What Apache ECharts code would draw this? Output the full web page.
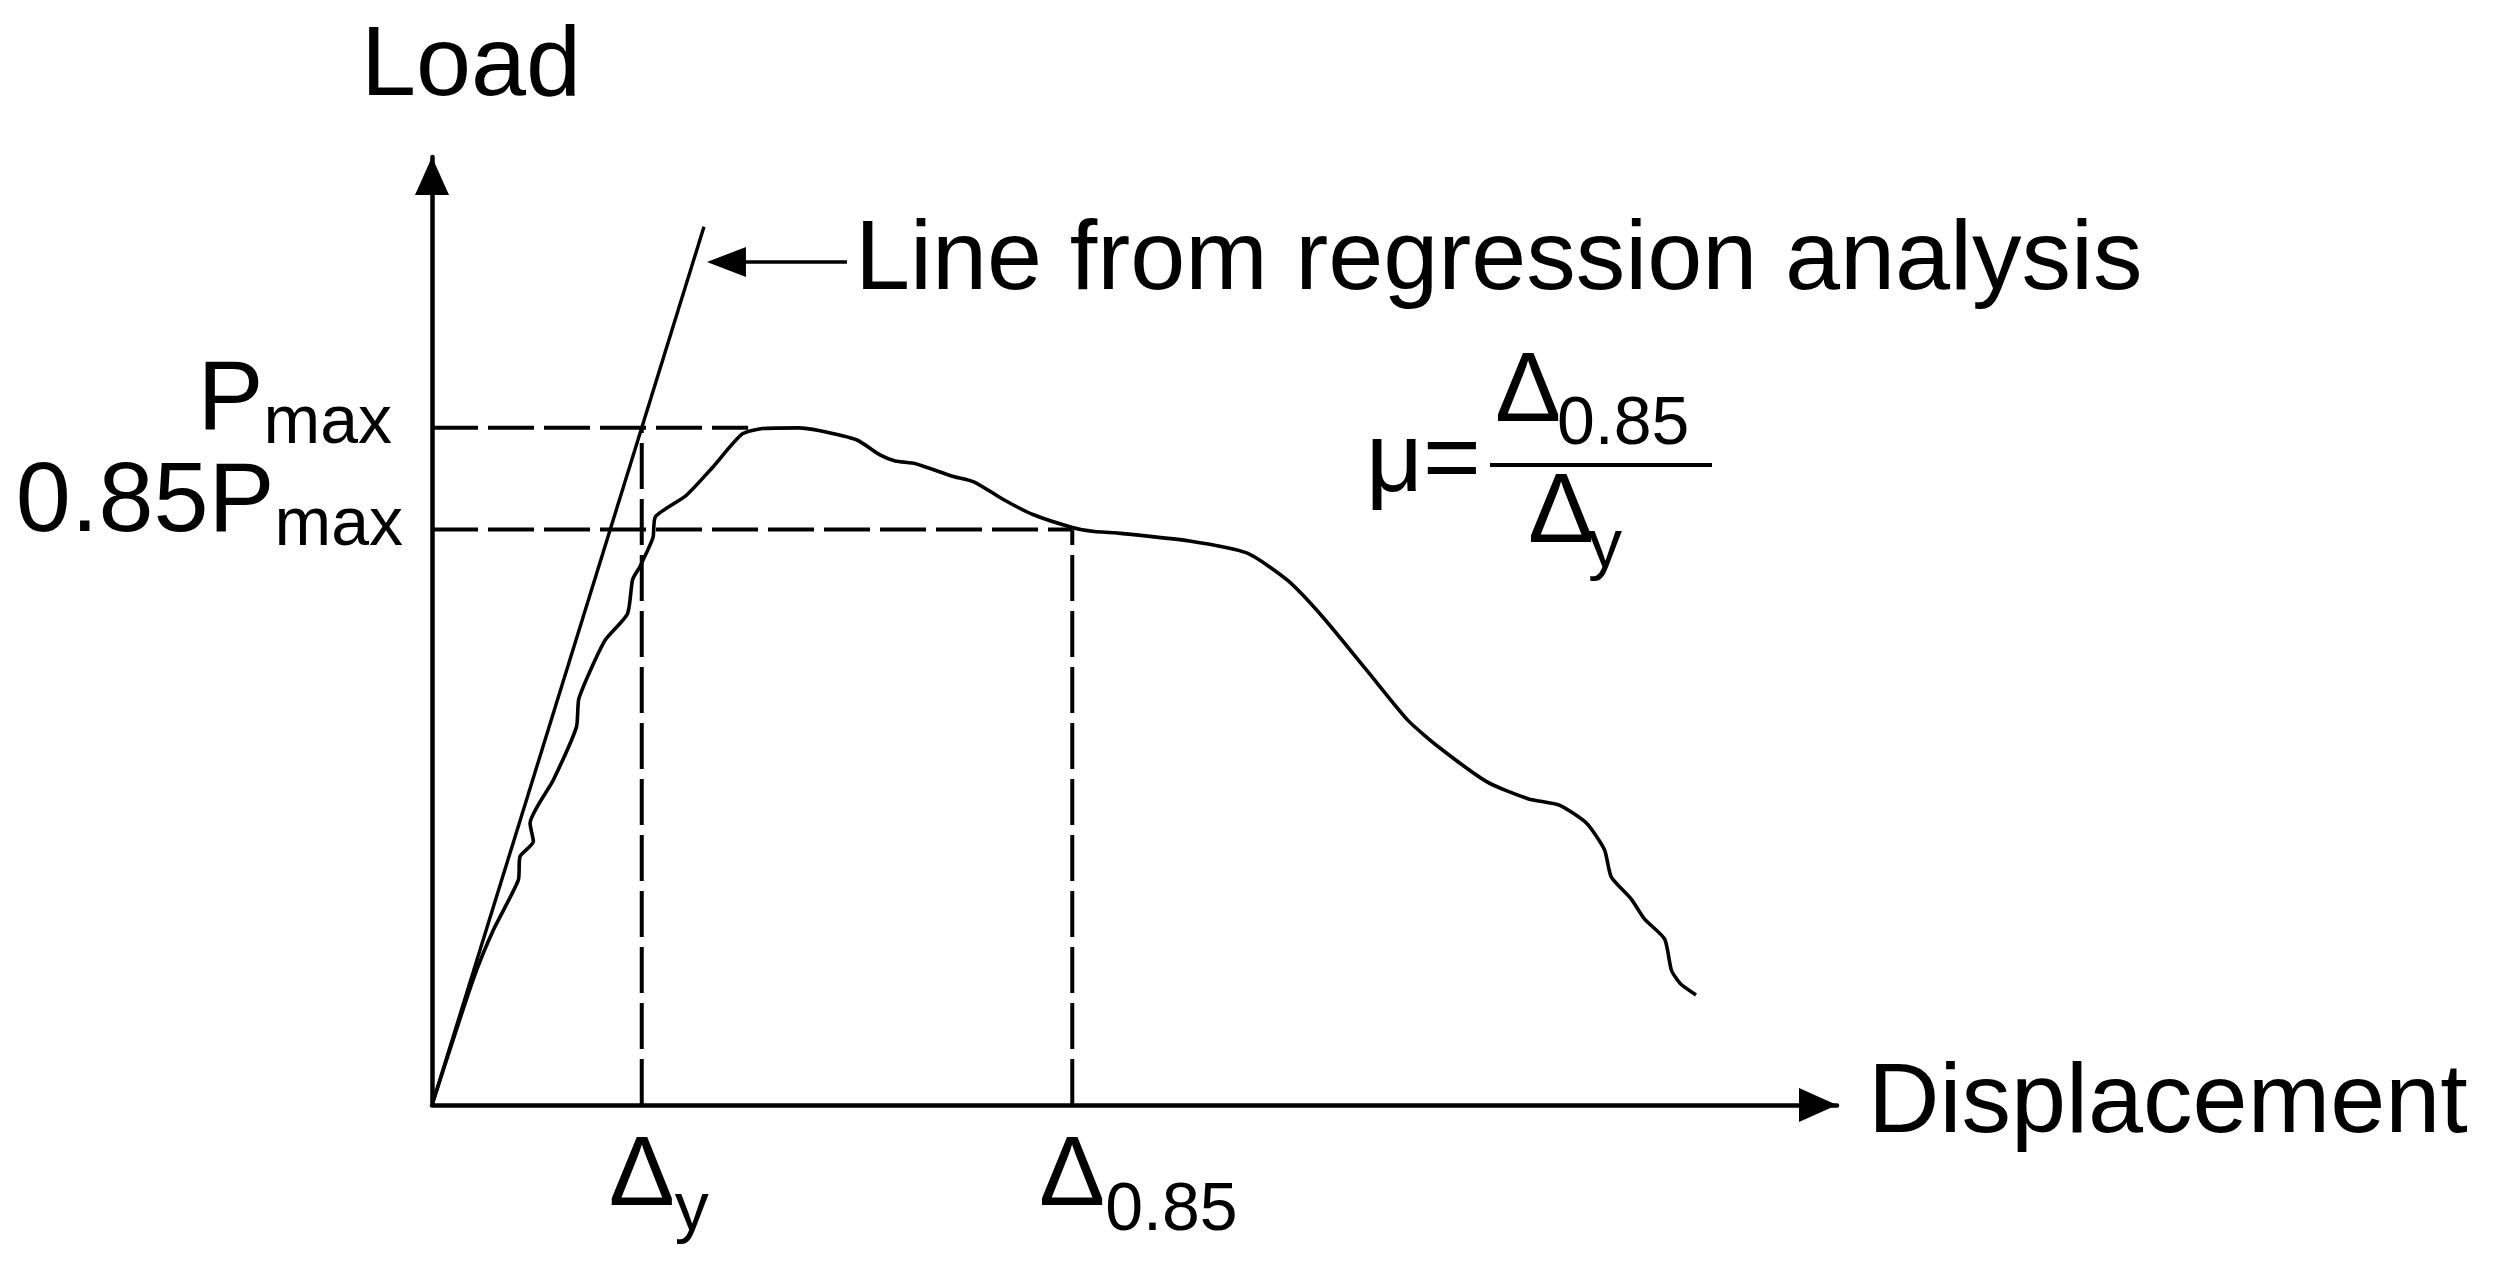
<!DOCTYPE html>
<html>
<head>
<meta charset="utf-8">
<title>Load - displacement curve</title>
<script src="https://cdn.jsdelivr.net/npm/echarts@6/dist/echarts.min.js"></script>
<style>
html, body { margin: 0; padding: 0; background: #fff; }
#chart { width: 2495px; height: 1265px; }
</style>
</head>
<body>
<div id="chart"></div>
<script>
// measured load-displacement curve (load normalised so that Pmax = 1)
var curveDisp = [0, 0.41, 0.61, 0.86, 0.877, 1.01, 0.977, 1.209, 1.439, 1.465, 1.719, 1.947, 1.999, 2.075,
  2.202, 2.227, 2.531, 2.786, 3.091, 3.295, 3.651, 3.854, 4.235, 4.464, 4.616, 4.82, 5.175, 5.404, 5.684,
  5.988, 6.38, 6.6, 6.8, 7.546, 8.124, 8.524, 8.88, 9.325, 9.725, 10.037, 10.526, 10.927, 11.238, 11.505,
  11.683, 11.75, 11.95, 12.083, 12.283, 12.35, 12.44, 12.595];
var curveLoad = [0, 0.185, 0.258, 0.332, 0.367, 0.389, 0.416, 0.48, 0.558, 0.601, 0.685, 0.725, 0.776, 0.796,
  0.838, 0.869, 0.9, 0.94, 0.991, 0.999, 1.0, 0.996, 0.982, 0.96, 0.951, 0.947, 0.929, 0.92, 0.895,
  0.872, 0.853, 0.847, 0.845, 0.833, 0.815, 0.775, 0.72, 0.64, 0.568, 0.528, 0.476, 0.452, 0.4425, 0.416,
  0.377, 0.337, 0.304, 0.2745, 0.245, 0.199, 0.179, 0.1625];

// line from regression analysis
var regDisp = [0, 2.71];
var regLoad = [0, 1.297];

// key values
var pMax = 1.0;
var ratio = 0.85;
var deltaY = 2.09;
var delta085 = 6.38;
var pMaxGuideEnd = 3.15;

// tick labels
var xTickValues = [deltaY, delta085];
var xTickMain = ['Δ', 'Δ'];
var xTickSub = ['y', '0.85'];
var yTickValues = [ratio * pMax, pMax];
var yTickMain = ['0.85P', 'P'];
var yTickSub = ['max', 'max'];

// pointer arrow to the regression line
var arrowDisp = [2.934, 4.135];
var arrowLoad = 1.245;

var X_MAX = 14;
var Y_MAX = 1.4;
var FONT = "'Liberation Sans', Arial, Helvetica, sans-serif";
var BIG = 99;
var SUB = 68;

function zip(a, b) {
  return a.map(function (v, i) { return [v, b[i]]; });
}

var dashed = { color: '#000', width: 4, type: [46, 10], cap: 'butt' };
function guide(points) {
  return {
    type: 'line',
    data: points,
    showSymbol: false,
    silent: true,
    lineStyle: dashed,
    z: 2
  };
}

// one y axis per tick label, so the two tall labels are never hidden as overlapping
function loadAxis(i, main) {
  var axis = {
    type: 'value',
    min: 0,
    max: Y_MAX,
    position: 'left',
    axisTick: { show: false },
    splitLine: { show: false },
    axisLine: { show: false },
    axisLabel: {
      customValues: [yTickValues[i]],
      margin: 29,
      hideOverlap: false,
      color: '#000',
      formatter: function () {
        return '{p|' + yTickMain[i] + '}{s' + i + '|' + yTickSub[i] + '}';
      },
      rich: {
        p: { fontSize: BIG, fontFamily: FONT, color: '#000', padding: [0, 0, 52, 0] },
        s0: { fontSize: SUB, fontFamily: FONT, color: '#000', padding: [0, 0, 7, 0] },
        s1: { fontSize: SUB, fontFamily: FONT, color: '#000', padding: [0, 11, 7, 0] }
      }
    }
  };
  if (main) {
    axis.name = 'Load';
    axis.nameLocation = 'end';
    axis.nameGap = 40;
    axis.nameTextStyle = { fontSize: BIG, fontFamily: FONT, color: '#000', padding: [0, 0, 0, 78] };
    axis.axisLine = {
      show: true,
      lineStyle: { color: '#000', width: 4.5 },
      symbol: ['none', 'triangle'],
      symbolSize: [34, 38],
      symbolOffset: [0, -19]
    };
  }
  return axis;
}

var chart = echarts.init(document.getElementById('chart'));

chart.setOption({
  animation: false,
  backgroundColor: '#fff',
  textStyle: { fontFamily: FONT, color: '#000' },
  grid: { left: 432, right: 658, top: 157, bottom: 160, outerBoundsMode: 'none' },
  xAxis: {
    type: 'value',
    min: 0,
    max: X_MAX,
    name: 'Displacement',
    nameLocation: 'end',
    nameGap: 31,
    nameTextStyle: { fontSize: BIG, fontFamily: FONT, color: '#000', padding: [0, 0, 12, 0] },
    axisLine: {
      lineStyle: { color: '#000', width: 4.5 },
      symbol: ['none', 'triangle'],
      symbolSize: [34, 38],
      symbolOffset: [0, -19]
    },
    axisTick: { show: false },
    splitLine: { show: false },
    axisLabel: {
      customValues: xTickValues,
      margin: 23,
      hideOverlap: false,
      color: '#000',
      formatter: function (v) {
        var i = Math.abs(v - xTickValues[0]) < Math.abs(v - xTickValues[1]) ? 0 : 1;
        return '{d' + i + '|' + xTickMain[i] + '}{s|' + xTickSub[i] + '}';
      },
      rich: {
        d0: { fontSize: BIG, fontFamily: FONT, color: '#000', padding: [0, 0, 18, 34] },
        d1: { fontSize: BIG, fontFamily: FONT, color: '#000', padding: [0, 0, 18, 132] },
        s: { fontSize: SUB, fontFamily: FONT, color: '#000', padding: [49, 0, 0, 0] }
      }
    }
  },
  yAxis: [loadAxis(1, true), loadAxis(0, false)],
  series: [
    guide([[0, pMax], [pMaxGuideEnd, pMax]]),
    guide([[0, ratio * pMax], [delta085, ratio * pMax]]),
    guide([[deltaY, 0], [deltaY, pMax]]),
    guide([[delta085, 0], [delta085, ratio * pMax]]),
    {
      name: 'Regression',
      type: 'line',
      data: zip(regDisp, regLoad),
      showSymbol: false,
      silent: true,
      lineStyle: { color: '#000', width: 3.4 },
      z: 3,
      markLine: {
        silent: true,
        symbol: ['triangle', 'none'],
        symbolSize: [30, 39],
        lineStyle: { color: '#000', width: 3.5, type: 'solid' },
        label: {
          show: true,
          position: 'end',
          distance: 8,
          formatter: 'Line from regression analysis',
          fontSize: BIG,
          fontFamily: FONT,
          color: '#000'
        },
        emphasis: { disabled: true },
        data: [[{ coord: [arrowDisp[0], arrowLoad] }, { coord: [arrowDisp[1], arrowLoad] }]]
      }
    },
    {
      name: 'Load-displacement',
      type: 'line',
      data: zip(curveDisp, curveLoad),
      showSymbol: false,
      silent: true,
      smooth: 0.2,
      lineStyle: { color: '#000', width: 3.6 },
      z: 4
    }
  ],
  // ductility formula
  graphic: [
    { type: 'text', x: 1366, y: 464, style: { text: 'μ=', font: BIG + 'px ' + FONT, fill: '#000', verticalAlign: 'middle' } },
    { type: 'text', x: 1495, y: 394, style: { text: 'Δ', font: BIG + 'px ' + FONT, fill: '#000', verticalAlign: 'middle' } },
    { type: 'text', x: 1557, y: 425, style: { text: '0.85', font: SUB + 'px ' + FONT, fill: '#000', verticalAlign: 'middle' } },
    { type: 'line', shape: { x1: 1490, y1: 465, x2: 1712, y2: 465 }, style: { stroke: '#000', lineWidth: 4 } },
    { type: 'text', x: 1528, y: 515, style: { text: 'Δ', font: BIG + 'px ' + FONT, fill: '#000', verticalAlign: 'middle' } },
    { type: 'text', x: 1588, y: 548, style: { text: 'y', font: SUB + 'px ' + FONT, fill: '#000', verticalAlign: 'middle' } }
  ]
});
</script>
</body>
</html>
